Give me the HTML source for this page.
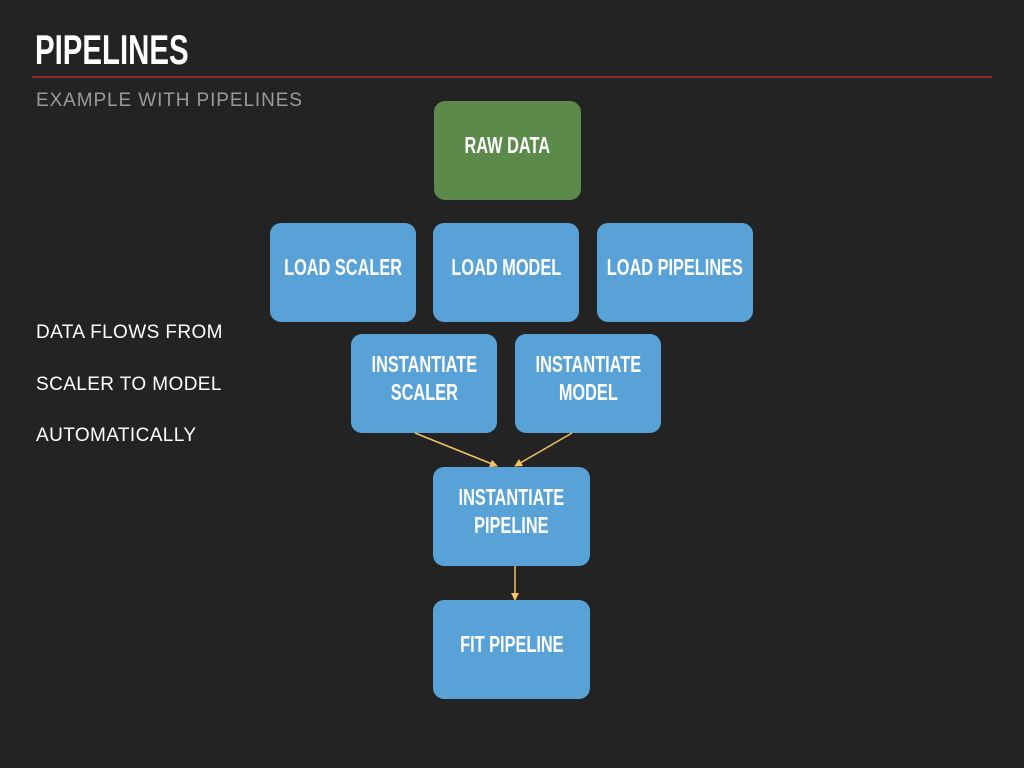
<!DOCTYPE html>
<html><head><meta charset="utf-8"><style>
body{margin:0;width:1024px;height:768px;background:#232323;overflow:hidden;position:relative;font-family:"Liberation Sans",sans-serif}
.t{position:absolute;color:#fff}
.box{position:absolute;box-sizing:border-box;padding-bottom:12px;border-radius:11px;background:#58a2d7;color:#fff;display:flex;align-items:center;justify-content:center;text-align:center;font-family:"Liberation Sans",sans-serif;font-weight:bold;font-size:23px;line-height:28px}
.box span{display:inline-block;white-space:nowrap;transform:scaleX(0.71)}
.l{position:absolute;left:36px;color:#fff;font-size:19px;line-height:20px;letter-spacing:0.4px}
</style></head><body>
<div class="t" style="left:35px;top:26px;font-weight:bold;font-size:42px;line-height:48px;transform:scaleX(0.7);transform-origin:left center">PIPELINES</div>
<div style="position:absolute;left:32px;top:76px;width:960px;height:2px;background:#8c2b2b"></div>
<div class="t" style="left:36px;top:90px;font-size:19px;color:#9a9a9a;line-height:22px;letter-spacing:0.9px">EXAMPLE WITH PIPELINES</div>
<div class="l" style="top:323px">DATA FLOWS FROM</div>
<div class="l" style="top:375px">SCALER TO MODEL</div>
<div class="l" style="top:426px">AUTOMATICALLY</div>
<div class="box" style="left:434px;top:101px;width:147px;height:99px;background:#5b8a4b"><span>RAW DATA</span></div>
<div class="box" style="left:270px;top:223px;width:146px;height:99px"><span>LOAD SCALER</span></div>
<div class="box" style="left:433px;top:223px;width:146px;height:99px"><span>LOAD MODEL</span></div>
<div class="box" style="left:597px;top:223px;width:156px;height:99px"><span>LOAD PIPELINES</span></div>
<div class="box" style="left:351px;top:334px;width:146px;height:99px"><span>INSTANTIATE<br>SCALER</span></div>
<div class="box" style="left:515px;top:334px;width:146px;height:99px"><span>INSTANTIATE<br>MODEL</span></div>
<div class="box" style="left:433px;top:467px;width:157px;height:99px"><span>INSTANTIATE<br>PIPELINE</span></div>
<div class="box" style="left:433px;top:600px;width:157px;height:99px"><span>FIT PIPELINE</span></div>
<svg width="1024" height="768" style="position:absolute;left:0;top:0">
<defs><marker id="a" markerWidth="8" markerHeight="8" refX="7" refY="4" orient="auto" markerUnits="userSpaceOnUse"><path d="M0,0 L8,4 L0,8z" fill="#f2c35e"/></marker></defs>
<g stroke="#f2c35e" stroke-width="1.5" fill="none" marker-end="url(#a)">
<line x1="415" y1="433" x2="497" y2="466"/>
<line x1="572" y1="433" x2="515" y2="466"/>
<line x1="515" y1="566" x2="515" y2="600"/>
</g></svg>
</body></html>
